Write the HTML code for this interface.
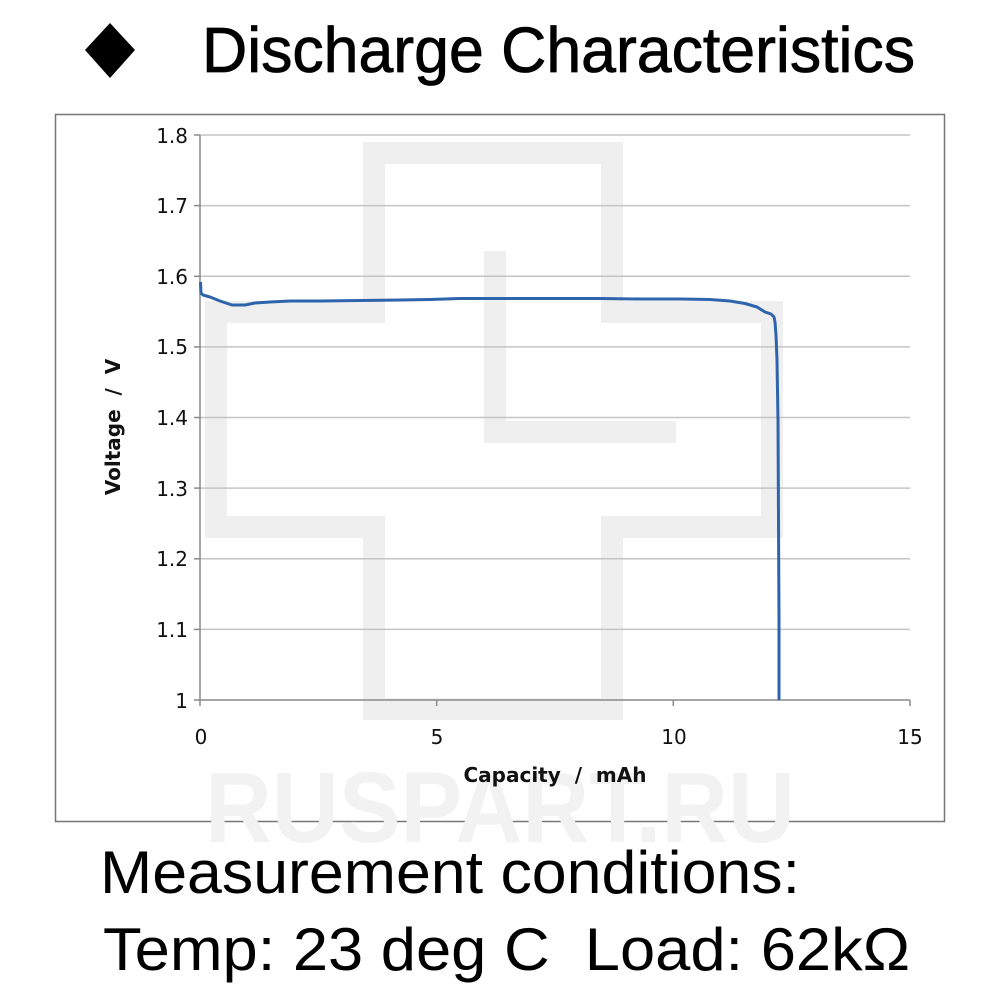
<!DOCTYPE html>
<html><head><meta charset="utf-8"><style>html,body{margin:0;padding:0;background:#fff;}svg{display:block}</style></head>
<body>
<svg width="1000" height="1000" viewBox="0 0 1000 1000" xmlns="http://www.w3.org/2000/svg">
<rect width="1000" height="1000" fill="#fff"/>
<polygon points="110,23 135,50 110,78 85,50" fill="#000"/>
<text x="202" y="72" font-family="Liberation Sans, sans-serif" font-size="64" textLength="713" lengthAdjust="spacingAndGlyphs" fill="#000" stroke="#000" stroke-width="0.8">Discharge Characteristics</text>
<rect x="55.5" y="114.5" width="889" height="707" fill="#fff" stroke="#777" stroke-width="1.5"/>
<g fill="none" stroke="#efefef" stroke-width="22">
<path d="M374,153 H612 V312 H772 V527 H612 V709 H374 V527 H216 V312 H374 Z"/>
<path d="M495,251 V432 H676"/>
</g>
<text x="500" y="842" text-anchor="middle" font-family="Liberation Sans, sans-serif" font-weight="bold" font-size="100" fill="#f2f2f2" textLength="590" lengthAdjust="spacingAndGlyphs">RUSPART.RU</text>
<g stroke="#c4c4c4" stroke-width="1.5">
<line x1="200" x2="910" y1="135" y2="135"/>
<line x1="200" x2="910" y1="205.6" y2="205.6"/>
<line x1="200" x2="910" y1="276.3" y2="276.3"/>
<line x1="200" x2="910" y1="346.9" y2="346.9"/>
<line x1="200" x2="910" y1="417.5" y2="417.5"/>
<line x1="200" x2="910" y1="488.1" y2="488.1"/>
<line x1="200" x2="910" y1="558.8" y2="558.8"/>
<line x1="200" x2="910" y1="629.4" y2="629.4"/>
</g>
<g stroke="#8a8a8a" stroke-width="1.5">
<line x1="200" x2="200" y1="135" y2="706"/>
<line x1="194" x2="910" y1="700" y2="700"/>
<line x1="194" x2="200" y1="135" y2="135"/><line x1="194" x2="200" y1="205.6" y2="205.6"/><line x1="194" x2="200" y1="276.3" y2="276.3"/><line x1="194" x2="200" y1="346.9" y2="346.9"/><line x1="194" x2="200" y1="417.5" y2="417.5"/><line x1="194" x2="200" y1="488.1" y2="488.1"/><line x1="194" x2="200" y1="558.8" y2="558.8"/><line x1="194" x2="200" y1="629.4" y2="629.4"/>
<line x1="436.7" x2="436.7" y1="700" y2="706"/><line x1="673.3" x2="673.3" y1="700" y2="706"/><line x1="910" x2="910" y1="700" y2="706"/>
</g>
<g font-family="DejaVu Sans, sans-serif" font-size="20" fill="#111" text-anchor="end">
<text x="188" y="143">1.8</text><text x="188" y="213">1.7</text><text x="188" y="284">1.6</text><text x="188" y="354">1.5</text><text x="188" y="425">1.4</text><text x="188" y="496">1.3</text><text x="188" y="566">1.2</text><text x="188" y="637">1.1</text><text x="188" y="708">1</text>
</g>
<g font-family="DejaVu Sans, sans-serif" font-size="20" fill="#111" text-anchor="middle">
<text x="201" y="744">0</text><text x="437" y="744">5</text><text x="674" y="744">10</text><text x="910" y="744">15</text>
</g>
<text x="555" y="782" text-anchor="middle" font-family="DejaVu Sans, sans-serif" font-weight="bold" font-size="20" fill="#111" xml:space="preserve">Capacity  /  mAh</text>
<text transform="translate(120,427) rotate(-90)" text-anchor="middle" font-family="DejaVu Sans, sans-serif" font-weight="bold" font-size="20" fill="#111" xml:space="preserve">Voltage  /  V</text>
<path d="M200.5,282 L201,293 L203,295 L210,297 L220,301 L232,305 L245,305 L255,303 L270,302 L290,301 L320,301 L360,300.5 L400,300 L430,299.5 L460,298.5 L500,298.5 L560,298.5 L600,298.5 L640,299 L680,299 L710,299.5 L730,301 L745,303.5 L757,307 L765,312 L771,314 L774,317 L775,322 L776,335 L777,360 L778,420 L778.5,520 L779,620 L779,700" fill="none" stroke="#2e64ac" stroke-width="3" stroke-linejoin="round"/>
<text x="100" y="893" font-family="Liberation Sans, sans-serif" font-size="60" fill="#000" textLength="700" lengthAdjust="spacingAndGlyphs">Measurement conditions:</text>
<text x="103" y="970" font-family="Liberation Sans, sans-serif" font-size="60" fill="#000" textLength="807" lengthAdjust="spacingAndGlyphs" xml:space="preserve">Temp: 23 deg C  Load: 62kΩ</text>
</svg>
</body></html>
